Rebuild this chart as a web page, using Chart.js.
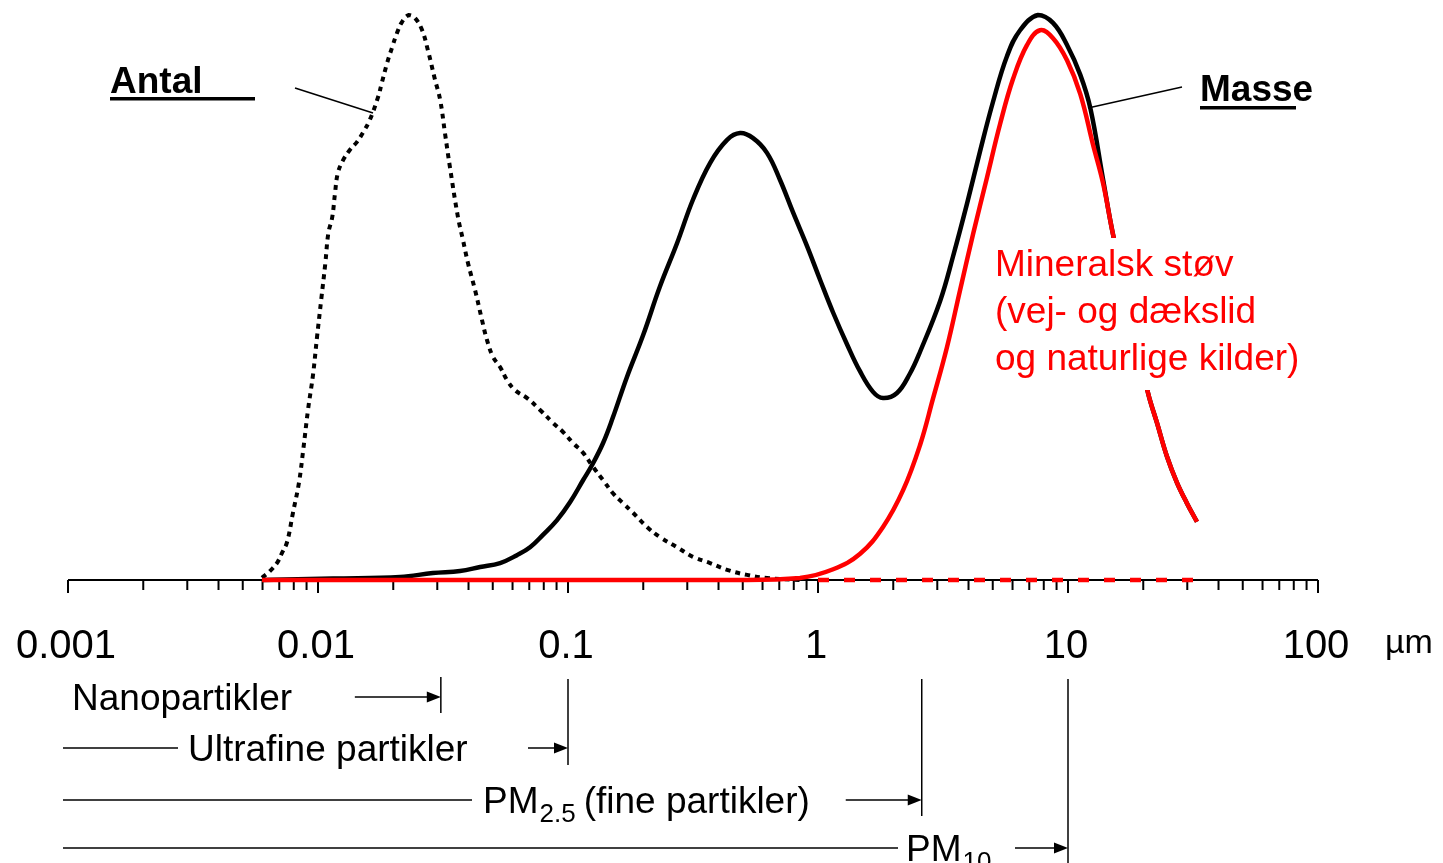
<!DOCTYPE html>
<html><head><meta charset="utf-8">
<script src="https://cdn.jsdelivr.net/npm/chart.js@4.4.1/dist/chart.umd.min.js"></script>
<style>html,body{margin:0;padding:0;background:#fff}canvas{display:block}</style>
</head><body>
<canvas id="c" width="1443" height="863"></canvas>
<script>
/* ---------- data: partikelstørrelse (µm) og relativ fordeling (top = 100) ---------- */
const antalX = [0.00597,0.00643,0.00685,0.00718,0.00752,0.00794,0.00839,0.00871,0.00912,0.00955,0.00991,0.0103,0.0107,0.0110,0.0114,0.0117,0.0120,0.0126,0.0134,0.0143,0.0151,0.0161,0.0174,0.0180,0.0189,0.0198,0.0207,0.0217,0.0231,0.0244,0.0261,0.0275,0.0294,0.0308,0.0322,0.0337,0.0363,0.0380,0.0398,0.0425,0.0453,0.0474,0.0501,0.0535,0.0570,0.0614,0.0686,0.0773,0.0871,0.0955,0.105,0.115,0.126,0.138,0.151,0.166,0.182,0.207,0.233,0.273,0.316,0.370,0.433,0.520,0.625,0.85];
const antalY = [0.4,1.6,3.0,4.8,6.7,11.9,17.2,22.7,30.1,36.3,43.0,49.6,56.1,61.4,64.2,68.5,72.0,74.3,76.1,77.5,79.1,81.4,85.5,88.0,91.5,94.3,96.8,98.8,100,99.5,97.3,93.8,88.5,85.0,79.1,73.1,64.2,60.2,56.1,51.3,46.0,42.5,39.5,37.7,35.4,33.6,32.2,30.1,27.8,26.2,24.2,22.5,20.0,17.7,15.4,13.6,11.9,9.4,7.6,5.8,4.1,3.0,1.8,0.9,0.35,0];

const masseX = [0.00597,0.0115,0.0213,0.0288,0.0370,0.0445,0.0535,0.0625,0.0705,0.0794,0.0904,0.102,0.115,0.125,0.138,0.151,0.172,0.200,0.233,0.273,0.316,0.370,0.433,0.488,0.550,0.625,0.705,0.794,0.904,1.02,1.15,1.31,1.47,1.66,1.82,2.07,2.33,2.56,3.08,3.47,3.95,4.45,5.01,5.70,6.43,7.59,8.71,9.91,11.2,12.3,13.8,15.1,17.7,20.9,22.7,24.9,27.3,29.9,32.8];
const masseY = [0,0.27,0.53,1.24,1.59,2.3,3.0,4.4,5.8,8.0,10.6,13.8,17.7,20.4,24.2,28.7,35.9,43.4,51.9,59.6,67.3,73.8,77.9,79.1,78.2,75.6,70.8,65.1,59.1,53.1,47.3,41.6,37.0,33.3,32.2,33.1,36.5,40.4,49.4,57.3,66.7,75.9,84.6,92.7,97.3,100,98.6,94.7,89.4,83.4,71.0,61.4,47.3,33.1,27.8,21.8,17.2,13.6,10.3];

const mineralX = [0.00597,0.5,0.847,1.15,1.47,1.82,2.19,2.56,2.88,3.28,3.70,4.17,4.74,5.35,6.03,6.86,7.73,8.71,9.91,11.2,12.6,13.8,15.1,17.7,20.9,22.7,24.9,27.3,29.9,32.8];
const mineralY = [0,0,0.35,1.9,4.6,9.4,15.9,23.9,32.0,41.2,51.3,61.2,71.2,80.7,88.7,94.7,97.3,95.9,92.0,86.0,77.0,70.3,61.4,47.3,33.1,27.8,21.8,17.2,13.6,10.3];

const mineralTailX = [1.0, 32.8];
const mineralTailY = [0, 0];

const decadeTicks  = [0.001, 0.01, 0.1, 1, 10, 100];
const decadeLabels = ['0.001', '0.01', '0.1', '1', '10', '100'];

// limits as drawn in the figure
const sizeLimits = [0.031, 0.1, 2.6, 10];
const sizeNames  = ['Nanopartikler', 'Ultrafine partikler', 'PM', 'PM'];
const sizeSubs   = ['', '', '2.5', '10'];
const sizeRest   = ['', '', '(fine partikler)', ''];

/* ---------- helpers ---------- */
const pts = (xs, ys) => xs.map((x, i) => ({x, y: ys[i]}));
const FONT = '"Liberation Sans", Arial, sans-serif';

function line(ctx, x1, y1, x2, y2){ ctx.beginPath(); ctx.moveTo(x1, y1); ctx.lineTo(x2, y2); ctx.stroke(); }
function arrow(ctx, x1, x2, y){
  line(ctx, x1, y, x2 - 10, y);
  ctx.beginPath(); ctx.moveTo(x2, y); ctx.lineTo(x2 - 14, y - 5.5); ctx.lineTo(x2 - 14, y + 5.5); ctx.closePath(); ctx.fill();
}

// layout for the size-class rows under the axis (pixels)
const rows = [
  {y: 697, textX: 72,  leftLine: null, arrowLen: 86, top: 677, bottom: 713},
  {y: 748, textX: 188, leftLine: 178,  arrowLen: 40, top: 679, bottom: 765},
  {y: 800, textX: 483, leftLine: 472,  arrowLen: 76, top: 679, bottom: 816},
  {y: 848, textX: 906, leftLine: 898,  arrowLen: 53, top: 679, bottom: 863}
];

/* ---------- axis + annotations ---------- */
const overlay = {
  id: 'overlay',
  beforeDatasetsDraw(chart){
    const {ctx, chartArea: a} = chart, x = chart.scales.x, y0 = a.bottom;
    ctx.save();
    ctx.strokeStyle = '#000'; ctx.lineWidth = 2;
    line(ctx, a.left, y0, a.right, y0);
    decadeTicks.forEach((d, i) => {
      const px = x.getPixelForValue(d);
      line(ctx, px, y0, px, y0 + 13);
      if (i < decadeTicks.length - 1)
        for (let m = 2; m < 10; m++){ const p = x.getPixelForValue(d * m); line(ctx, p, y0, p, y0 + 10); }
    });
    ctx.restore();
  },
  afterDatasetsDraw(chart){
    const {ctx} = chart, x = chart.scales.x;
    ctx.save();
    ctx.fillStyle = '#000'; ctx.strokeStyle = '#000';
    // tick labels
    ctx.font = '40px ' + FONT; ctx.textAlign = 'center'; ctx.textBaseline = 'alphabetic';
    decadeTicks.forEach((d, i) => ctx.fillText(decadeLabels[i], x.getPixelForValue(d) - 2, 658));
    ctx.textAlign = 'left';
    ctx.font = '34px ' + FONT;
    ctx.fillText('µm', 1385, 653);

    // Antal / Masse labels
    ctx.font = 'bold 37px ' + FONT;
    ctx.fillText('Antal', 110, 93);
    ctx.fillRect(110, 97, 145, 3.5);
    ctx.fillText('Masse', 1200, 101);
    ctx.fillRect(1200, 106, 96, 3.5);
    ctx.lineWidth = 1.5;
    line(ctx, 295, 88, 373, 113);
    line(ctx, 1182, 87, 1088, 108);

    // mineral dust label (white box hides the curve behind it)
    ctx.fillStyle = '#fff';
    ctx.fillRect(990, 238, 316, 152);
    ctx.fillStyle = '#ff0000';
    ctx.font = '37px ' + FONT;
    ctx.fillText('Mineralsk støv', 995, 276);
    ctx.fillText('(vej- og dækslid', 995, 323);
    ctx.fillText('og naturlige kilder)', 995, 370);

    // size classes
    ctx.fillStyle = '#000';
    ctx.lineWidth = 1.5;
    rows.forEach((r, i) => {
      const lim = x.getPixelForValue(sizeLimits[i]);
      line(ctx, lim, r.top, lim, r.bottom);
      if (r.leftLine) line(ctx, 63, r.y, r.leftLine, r.y);
      ctx.font = '37px ' + FONT;
      let tx = r.textX;
      ctx.fillText(sizeNames[i], tx, r.y + 13);
      tx += ctx.measureText(sizeNames[i]).width;
      if (sizeSubs[i]){
        ctx.font = '26px ' + FONT;
        ctx.fillText(sizeSubs[i], tx + 1, r.y + 22);
        tx += ctx.measureText(sizeSubs[i]).width + 1;
        ctx.font = '37px ' + FONT;
      }
      if (sizeRest[i]){
        ctx.fillText(sizeRest[i], tx + 8, r.y + 13);
      }
      arrow(ctx, lim - r.arrowLen, lim, r.y);
    });
    ctx.restore();
  }
};

/* ---------- chart ---------- */
new Chart(document.getElementById('c').getContext('2d'), {
  type: 'line',
  data: {
    datasets: [
      {label: 'Mineralsk støv', data: pts(mineralX, mineralY), borderColor: '#ff0000', borderWidth: 4.5, order: 0},
      {label: 'Mineralsk hale', data: pts(mineralTailX, mineralTailY), borderColor: '#ff0000', borderWidth: 4.5, borderDash: [11, 15], order: 1, tension: 0},
      {label: 'Masse', data: pts(masseX, masseY), borderColor: '#000', borderWidth: 4.5, order: 2},
      {label: 'Antal', data: pts(antalX, antalY), borderColor: '#000', borderWidth: 4, borderDash: [5, 5], order: 3}
    ]
  },
  options: {
    responsive: false,
    devicePixelRatio: 1,
    animation: false,
    layout: {padding: {left: 68, right: 125, top: 15, bottom: 283}},
    elements: {point: {radius: 0}, line: {tension: 0.4, fill: false, borderCapStyle: 'butt', capBezierPoints: true}},
    datasets: {line: {clip: false}},
    plugins: {legend: {display: false}, tooltip: {enabled: false}},
    scales: {
      x: {type: 'logarithmic', min: 0.001, max: 100, display: false},
      y: {type: 'linear', min: 0, max: 100, display: false}
    }
  },
  plugins: [overlay]
});
</script>
</body></html>
